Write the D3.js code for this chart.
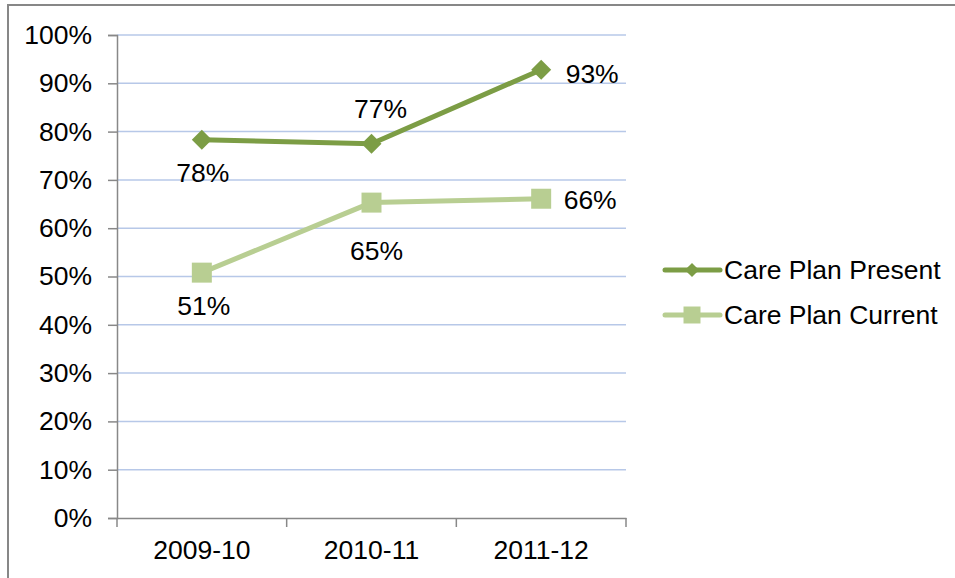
<!DOCTYPE html>
<html>
<head>
<meta charset="utf-8">
<script src="https://cdn.jsdelivr.net/npm/d3@7"></script>
<style>
  body { margin: 0; background: #fff; }
  svg { display: block; font-family: "Liberation Sans", Arial, sans-serif; }
</style>
</head>
<body>
<div id="chart"></div>
<script>
var categories = ["2009-10", "2010-11", "2011-12"];
var presentValues = [78.3, 77.5, 92.8];
var currentValues = [50.8, 65.3, 66.1];
var presentLabels = ["78%", "77%", "93%"];
var currentLabels = ["51%", "65%", "66%"];
var yTicks = [0, 10, 20, 30, 40, 50, 60, 70, 80, 90, 100];

var width = 955, height = 578;
var plotLeft = 117, plotRight = 626, plotTop = 35, plotBottom = 518;
var presentColor = "#7C9D45";
var currentColor = "#B8CE92";
var fontSize = "26.5px";

var svg = d3.select("#chart").append("svg")
  .attr("width", width)
  .attr("height", height);

// chart frame
svg.append("rect")
  .attr("x", 8).attr("y", 5)
  .attr("width", width).attr("height", height)
  .style("fill", "none")
  .style("stroke", "#878787")
  .style("stroke-width", 2);

var x = d3.scaleBand().domain(categories).range([plotLeft, plotRight]);
var y = d3.scaleLinear().domain([0, 100]).range([plotBottom, plotTop]);

// gridlines
svg.selectAll(".grid")
  .data(yTicks.filter(function(d) { return d > 0; }))
  .enter().append("line")
  .attr("class", "grid")
  .attr("x1", plotLeft).attr("x2", plotRight)
  .attr("y1", function(d) { return y(d); })
  .attr("y2", function(d) { return y(d); })
  .style("stroke", "#B7C8E8")
  .style("stroke-width", 1.5);

// y axis
var yAxis = svg.append("g")
  .attr("transform", "translate(" + plotLeft + ",0)")
  .call(d3.axisLeft(y).tickValues(yTicks).tickSize(9).tickPadding(16)
    .tickFormat(function(d) { return d + "%"; }));
yAxis.attr("font-family", null).attr("font-size", null);
yAxis.select(".domain").style("stroke", "#888").style("stroke-width", 1.5);
yAxis.selectAll(".tick line").style("stroke", "#888").style("stroke-width", 1.5);
yAxis.selectAll("text").style("font-size", fontSize).style("fill", "#000");

// x axis
var xAxis = svg.append("g")
  .attr("transform", "translate(0," + plotBottom + ")")
  .call(d3.axisBottom(x).tickSize(0).tickPadding(22));
xAxis.attr("font-family", null).attr("font-size", null);
xAxis.select(".domain").style("stroke", "#888").style("stroke-width", 1.5);
xAxis.selectAll("text").style("font-size", fontSize).style("fill", "#000");
// boundary ticks between categories
var bounds = categories.map(function(c) { return x(c); }).concat([plotRight]);
xAxis.selectAll(".btick")
  .data(bounds)
  .enter().append("line")
  .attr("class", "btick")
  .attr("x1", function(d) { return d; }).attr("x2", function(d) { return d; })
  .attr("y1", 0).attr("y2", 9)
  .style("stroke", "#888").style("stroke-width", 1.5);

function cx(i) { return x(categories[i]) + x.bandwidth() / 2; }

var line = d3.line()
  .x(function(d, i) { return cx(i); })
  .y(function(d) { return y(d); });

svg.append("path").datum(currentValues)
  .attr("d", line)
  .style("fill", "none").style("stroke", currentColor).style("stroke-width", 5);

svg.append("path").datum(presentValues)
  .attr("d", line)
  .style("fill", "none").style("stroke", presentColor).style("stroke-width", 5);

var diamond = d3.symbol().type(d3.symbolSquare).size(200);
var square = d3.symbol().type(d3.symbolSquare).size(400);

svg.selectAll(".pm").data(presentValues).enter().append("path")
  .attr("class", "pm")
  .attr("d", diamond)
  .attr("transform", function(d, i) { return "translate(" + cx(i) + "," + y(d) + ") rotate(45)"; })
  .style("fill", presentColor);

svg.selectAll(".cm").data(currentValues).enter().append("path")
  .attr("class", "cm")
  .attr("d", square)
  .attr("transform", function(d, i) { return "translate(" + cx(i) + "," + y(d) + ")"; })
  .style("fill", currentColor);

// data labels: position relative to the point
var presentPos = [[1, 33], [9, -35], [51, 4]];
var currentPos = [[2, 33], [5, 48], [49, 1]];

function addLabels(values, labels, pos, cls) {
  svg.selectAll("." + cls).data(values).enter().append("text")
    .attr("class", cls)
    .attr("x", function(d, i) { return cx(i) + pos[i][0]; })
    .attr("y", function(d, i) { return y(d) + pos[i][1]; })
    .attr("dy", "0.35em")
    .attr("text-anchor", "middle")
    .style("font-size", fontSize)
    .style("fill", "#000")
    .text(function(d, i) { return labels[i]; });
}
addLabels(presentValues, presentLabels, presentPos, "pl");
addLabels(currentValues, currentLabels, currentPos, "cl");

// legend
var legendItems = [
  { name: "Care Plan Present", color: presentColor, sym: d3.symbol().type(d3.symbolSquare).size(100), rot: 45 },
  { name: "Care Plan Current", color: currentColor, sym: d3.symbol().type(d3.symbolSquare).size(289), rot: 0 }
];
var legend = svg.selectAll(".legend").data(legendItems).enter().append("g")
  .attr("class", "legend")
  .attr("transform", function(d, i) { return "translate(665," + (270 + i * 45) + ")"; });
legend.append("line")
  .attr("x1", 0).attr("x2", 55).attr("y1", 0).attr("y2", 0)
  .style("stroke", function(d) { return d.color; })
  .style("stroke-width", 5)
  .style("stroke-linecap", "round");
legend.append("path")
  .attr("d", function(d) { return d.sym(); })
  .attr("transform", function(d) { return "translate(27,0) rotate(" + d.rot + ")"; })
  .style("fill", function(d) { return d.color; });
legend.append("text")
  .attr("x", 59).attr("y", 0).attr("dy", "0.35em")
  .style("font-size", fontSize)
  .style("fill", "#000")
  .text(function(d) { return d.name; });
</script>
</body>
</html>
